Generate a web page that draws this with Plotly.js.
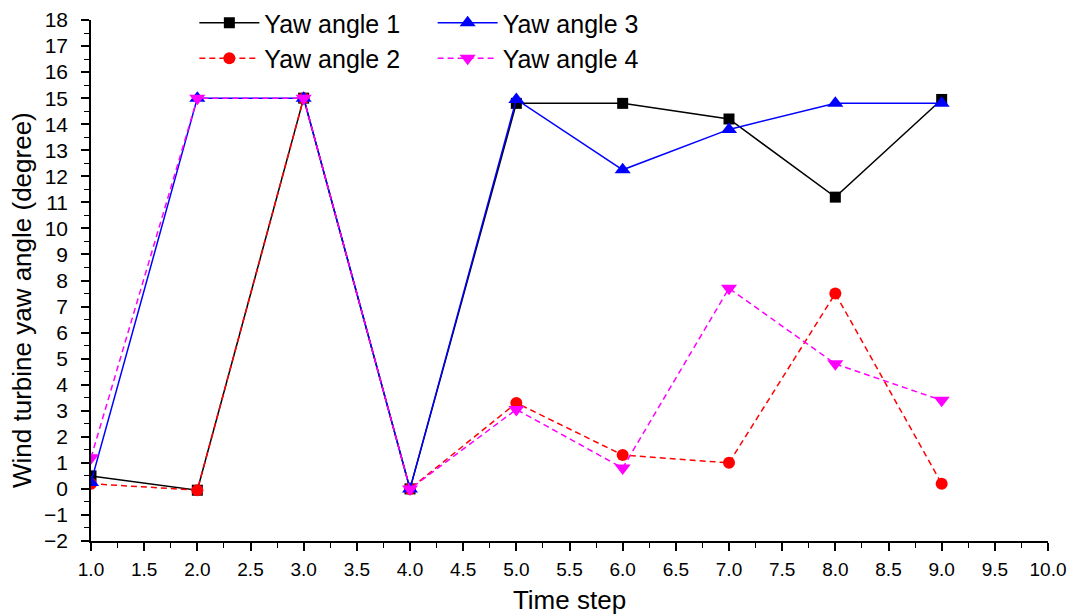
<!DOCTYPE html>
<html>
<head>
<meta charset="utf-8">
<script src="https://cdn.plot.ly/plotly-3.0.1.min.js"></script>
<style>html,body{margin:0;padding:0;background:#fff;}#chart{width:1073px;height:616px;}</style>
</head>
<body>
<div id="chart"></div>
<script>
const timeSteps = [1, 2, 3, 4, 5, 6, 7, 8, 9];
const yaw1 = [0.5, -0.05, 15, 0, 14.8, 14.8, 14.2, 11.2, 14.95];
const yaw2 = [0.2, -0.05, 15, 0, 3.3, 1.3, 1.0, 7.5, 0.2];
const yaw3 = [0.25, 15, 15, 0, 14.95, 12.25, 13.8, 14.8, 14.8];
const yaw4 = [1.2, 15, 15, 0, 3.05, 0.8, 7.7, 4.8, 3.4];
const seriesNames = ["Yaw angle 1", "Yaw angle 2", "Yaw angle 3", "Yaw angle 4"];
const xTitle = "Time step";
const yTitle = "Wind turbine yaw angle (degree)";

const font = "Liberation Sans, Arial, sans-serif";

const traces = [
  {x: timeSteps, y: yaw1, name: seriesNames[0], legend: "legend", mode: "lines+markers",
   line: {color: "#000000", width: 1.5},
   marker: {symbol: "square", size: 11, color: "#000000"}},
  {x: timeSteps, y: yaw2, name: seriesNames[1], legend: "legend", mode: "lines+markers",
   line: {color: "#ff0000", width: 1.5, dash: "6px,4px"},
   marker: {symbol: "circle", size: 12, color: "#ff0000"}},
  {x: timeSteps, y: yaw3, name: seriesNames[2], legend: "legend2", mode: "lines+markers",
   line: {color: "#0000ff", width: 1.5},
   marker: {symbol: "triangle-up", size: 14, color: "#0000ff"}},
  {x: timeSteps, y: yaw4, name: seriesNames[3], legend: "legend2", mode: "lines+markers",
   line: {color: "#ff00ff", width: 1.5, dash: "6px,4px"},
   marker: {symbol: "triangle-down", size: 14, color: "#ff00ff"}}
];

const legendCommon = {
  orientation: "v", traceorder: "normal", bgcolor: "rgba(0,0,0,0)",
  font: {family: font, size: 25, color: "#000"}, itemwidth: 60,
  yref: "container", y: 1.0, yanchor: "top", xanchor: "left", tracegroupgap: 0
};

const layout = {
  width: 1073, height: 616,
  margin: {l: 91, r: 25, t: 20, b: 75, autoexpand: false},
  paper_bgcolor: "#fff", plot_bgcolor: "#fff",
  showlegend: true,
  legend: Object.assign({}, legendCommon, {x: 0.108}),
  legend2: Object.assign({}, legendCommon, {x: 0.357}),
  xaxis: {
    range: [1, 10], dtick: 0.5, tick0: 1, tickformat: ".1f",
    showgrid: false, zeroline: false, showline: true, linecolor: "#000", linewidth: 1.5,
    ticks: "outside", ticklen: 8, tickwidth: 1.5, tickcolor: "#000",
    minor: {dtick: 0.25, ticks: "outside", ticklen: 5, tickwidth: 1.2, tickcolor: "#000", showgrid: false},
    tickfont: {family: font, size: 19, color: "#000"}, ticklabelstandoff: 2,
    title: {text: xTitle, font: {family: font, size: 26, color: "#000"}, standoff: 12}
  },
  yaxis: {
    range: [-2, 18], dtick: 1, tick0: 0,
    showgrid: false, zeroline: false, showline: true, linecolor: "#000", linewidth: 1.5,
    ticks: "outside", ticklen: 8, tickwidth: 1.5, tickcolor: "#000",
    minor: {dtick: 0.5, ticks: "outside", ticklen: 5, tickwidth: 1.2, tickcolor: "#000", showgrid: false},
    tickfont: {family: font, size: 21, color: "#000"}, ticklabelstandoff: 9
  },
  annotations: [{
    text: yTitle, textangle: -90, showarrow: false,
    xref: "paper", yref: "paper", x: 0, y: 0.4626, xshift: -69,
    xanchor: "center", yanchor: "middle",
    font: {family: font, size: 26, color: "#000"}
  }]
};

Plotly.newPlot("chart", traces, layout, {displayModeBar: false, responsive: false});
</script>
</body>
</html>
